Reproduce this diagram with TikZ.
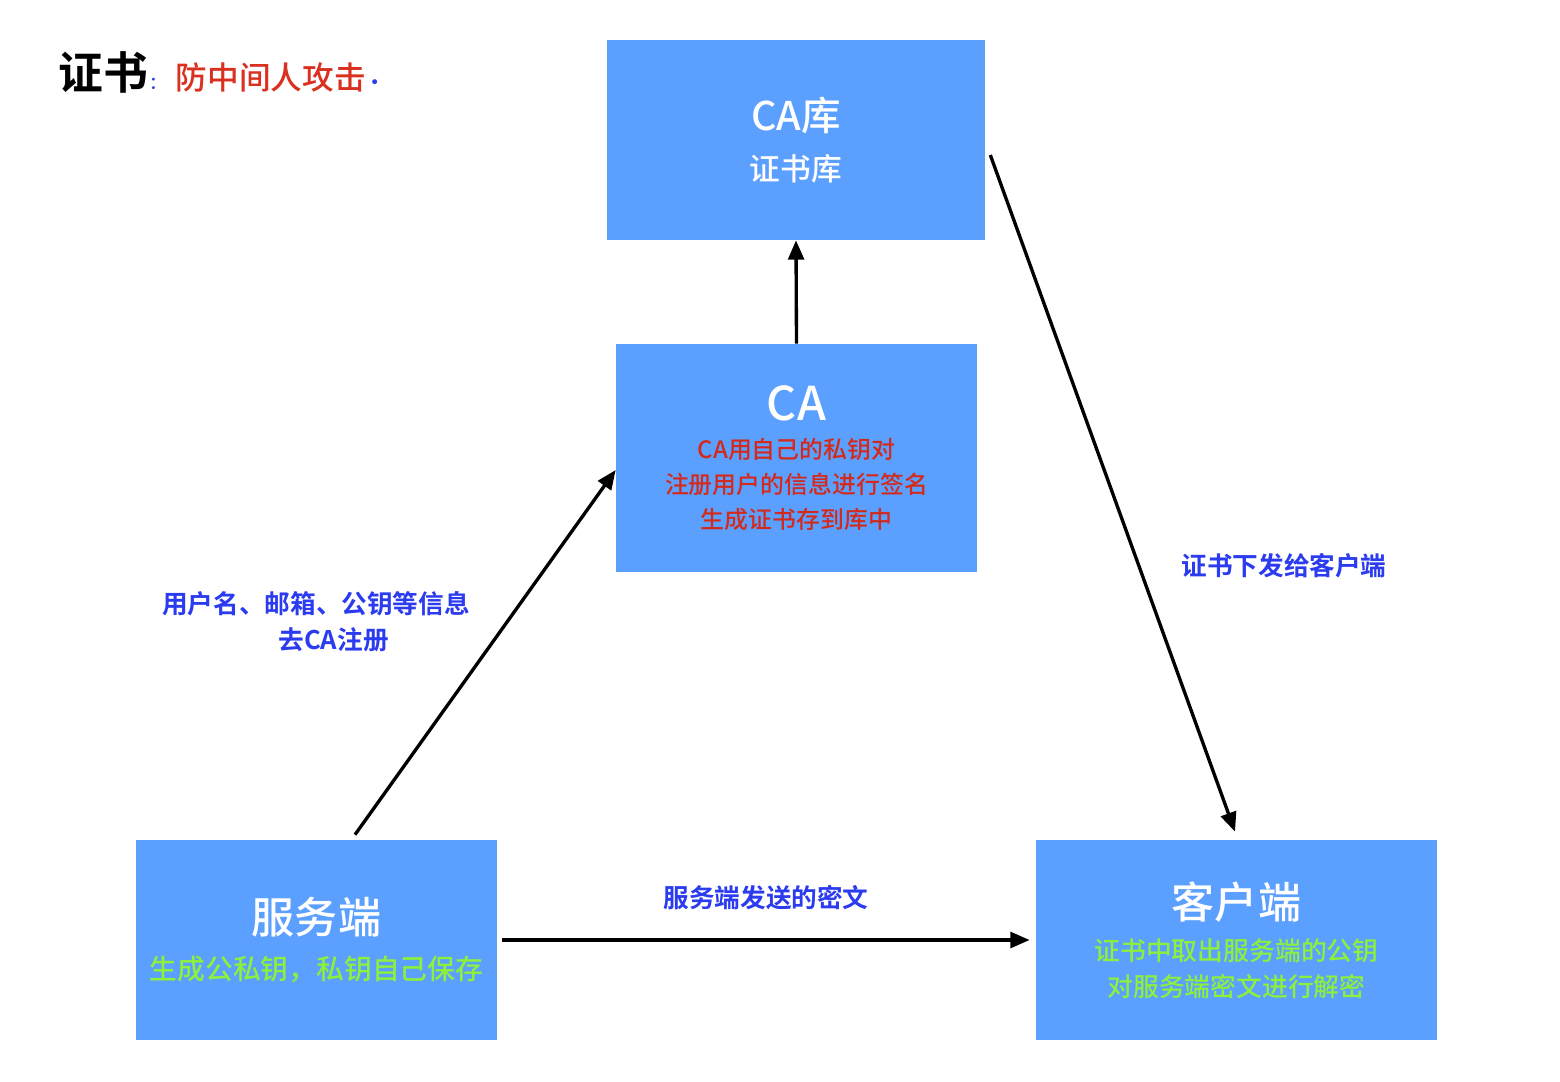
\documentclass[tikz,border=0pt]{standalone}
\usepackage{fontspec}
\setmainfont{Noto Sans CJK SC}[UprightFont={* Medium}, BoldFont={* Bold}]
\usetikzlibrary{arrows.meta}
\definecolor{boxblue}{HTML}{5B9FFF}
\definecolor{titlered}{HTML}{D9301F}
\definecolor{notered}{HTML}{D32A1C}
\definecolor{notegreen}{HTML}{8CF03C}
\definecolor{labelblue}{HTML}{2B3BEF}
\begin{document}
\begin{tikzpicture}[x=0.02cm, y=-0.02cm,
    box/.style={fill=boxblue, inner sep=0pt, align=center, text=white},
    arr/.style={line width=1.9pt, -{Triangle[length=11pt,width=9pt]}},
    lbl/.style={text=labelblue, align=center, font=\fontsize{14.6}{20.5}\selectfont\bfseries}]
    \useasboundingbox (0,0) rectangle (1560,1082);
    % title
    \node[anchor=west] (title) at (52,72) {{\bfseries\fontsize{25.5}{30}\selectfont 证书}\hspace{1pt}{\color{labelblue}\fontsize{10}{12}\selectfont ：}\hspace{5pt}{\color{titlered}\fontsize{18}{22}\selectfont 防中间人攻击}{\color{labelblue}\bfseries\fontsize{11}{12}\selectfont ·}};
    % boxes
    \node[box, minimum width=7.56cm, minimum height=4cm, font=\fontsize{17.5}{21}\selectfont] (lib) at (796,140)
        {{\fontsize{22.5}{26}\selectfont CA库}\\[7.5pt]证书库};
    \node[box, minimum width=7.22cm, minimum height=4.56cm, font=\fontsize{13.6}{19.8}\selectfont] (ca) at (796.5,458)
        {{\fontsize{26.5}{30}\selectfont CA}\\[2pt]
         \textcolor{notered}{CA用自己的私钥对}\\
         \textcolor{notered}{注册用户的信息进行签名}\\
         \textcolor{notered}{生成证书存到库中}};
    \node[box, minimum width=7.22cm, minimum height=4cm, font=\fontsize{15.8}{20}\selectfont] (srv) at (316.5,940)
        {{\fontsize{24.5}{30}\selectfont 服务端}\\[6pt]
         \textcolor{notegreen}{生成公私钥，私钥自己保存}};
    \node[box, minimum width=8.02cm, minimum height=4cm, font=\fontsize{14.7}{20.5}\selectfont] (cli) at (1236.5,940)
        {{\fontsize{24.5}{30}\selectfont 客户端}\\[3.5pt]
         \textcolor{notegreen}{证书中取出服务端的公钥}\\
         \textcolor{notegreen}{对服务端密文进行解密}};
    % labels
    \node[lbl] (reg) at (316,622) {用户名、邮箱、公钥等信息\\\hspace*{20pt}去CA注册};
    \node[lbl] (send) at (766,898) {服务端发送的密文};
    \node[lbl] (issue) at (1284,566) {证书下发给客户端};
    % arrows
    \draw[arr] (ca.north) -- (lib.south);
    \draw[arr] ([xshift=0.77cm,yshift=0.1cm]srv.north) -- ([yshift=-0.24cm]ca.west);
    \draw[arr] ([xshift=0.1cm]srv.east) -- ([xshift=-0.12cm]cli.west);
    \draw[arr] ([xshift=0.1cm,yshift=-0.3cm]lib.east) -- ([xshift=-0.03cm,yshift=0.16cm]cli.north);
\end{tikzpicture}
\end{document}
